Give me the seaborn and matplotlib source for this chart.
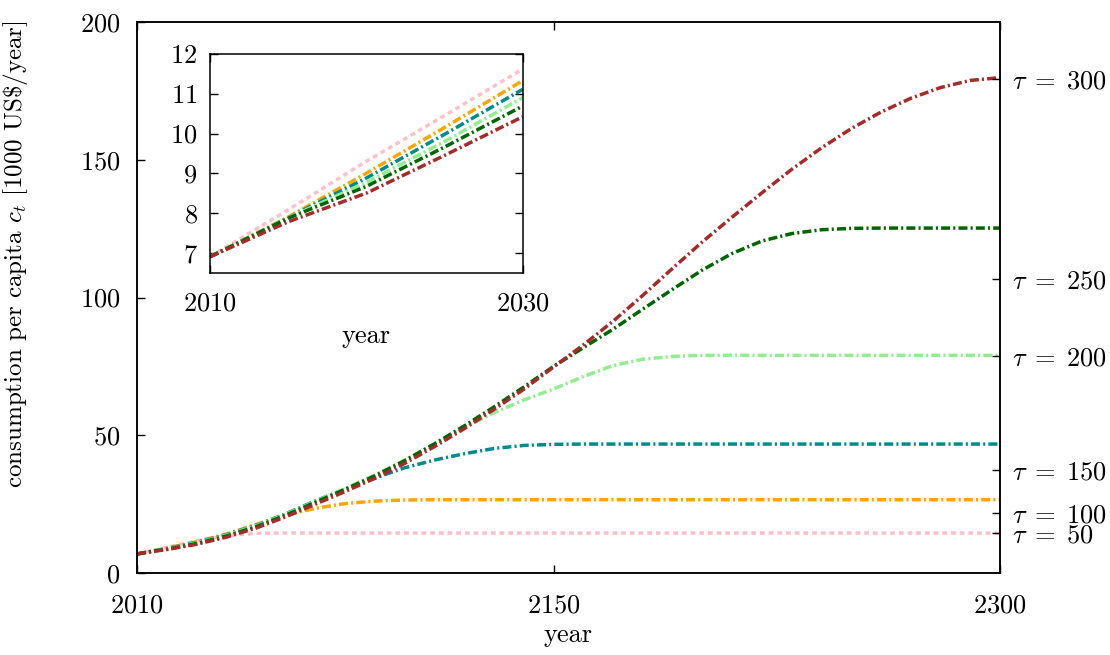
import pandas as pd
import seaborn as sns
import numpy as np
from matplotlib import pyplot as plt

# data (consumption per capita, 1000 US$/year)
years = [2010, 2015, 2020, 2025, 2030] + list(range(2040, 2301, 10))

c_tau50 = [6.9, 8.08, 9.3, 10.45, 11.62, 13.6, 14.4] + [14.5] * 25
c_tau100 = [6.9, 7.9, 9.0, 10.15, 11.33,
            14.1, 17.6, 21.0, 23.5, 25.2, 26.1, 26.5, 26.6] + [26.6] * 19
c_tau150 = [6.9, 7.88, 8.88, 9.98, 11.11,
            13.9, 17.3, 21.5, 26.2, 30.5, 34.5, 38.2, 41.0, 43.3, 45.2, 46.3, 46.7] + [46.8] * 15
c_tau200 = [6.9, 7.88, 8.77, 9.8, 10.9,
            13.7, 17.1, 21.3, 26.0, 30.7, 35.6, 41.0, 46.9, 52.8, 58.2, 62.8, 66.8,
            71.3, 75.3, 77.6, 78.6, 79.0] + [79.0] * 10
c_tau250 = [6.9, 7.87, 8.67, 9.66, 10.69,
            13.4, 16.8, 21.0, 25.7, 30.4, 35.3, 40.8, 46.9, 53.4, 60.3, 67.5, 75.0,
            81.8, 88.5, 95.8, 103.0, 110.0, 116.0, 120.5, 123.2, 124.6, 125.1,
            125.2, 125.2, 125.2, 125.2, 125.2]
c_tau300 = [6.9, 7.78, 8.5, 9.45, 10.42,
            13.0, 16.3, 20.4, 25.0, 29.6, 34.4, 39.8, 45.9, 52.4, 59.4, 66.7, 74.8,
            82.8, 91.4, 100.8, 110.6, 120.2, 129.2, 138.0, 146.5, 154.3, 161.3,
            167.3, 172.3, 176.2, 178.8, 179.8]

taus = [50, 100, 150, 200, 250, 300]
series = [c_tau50, c_tau100, c_tau150, c_tau200, c_tau250, c_tau300]
colors = ['#ffc0cb', '#ffa500', '#008b8b', '#90ee90', '#006400', '#a52a2a']

# right-hand label positions
label_pos = [14.6, 21.9, 37.4, 78.8, 106.8, 179.2]

df = pd.concat([pd.DataFrame({'year': years, 'c': s, 'tau': t})
                for t, s in zip(taus, series)], ignore_index=True)

palette = dict(zip(taus, colors))
dash_dot = (2.6, 0.9, 0.6, 0.9)
dashes = {t: dash_dot for t in taus}
dashes[50] = (1.4, 1.1)

plt.rcParams['font.family'] = 'cmr10'
plt.rcParams['mathtext.fontset'] = 'cm'
plt.rcParams['axes.formatter.use_mathtext'] = True
plt.rcParams['axes.linewidth'] = 1.1

fs = 19

fig = plt.figure(figsize=(11.1, 6.55), dpi=100)
ax = fig.add_axes([0.1234, 0.1252, 0.7775, 0.8412])

sns.lineplot(data=df, x='year', y='c', hue='tau', style='tau', palette=palette,
             dashes=dashes, hue_order=taus, style_order=taus, lw=2.5,
             legend=False, ax=ax)

ax.set_xlim(2010, 2300)
ax.set_ylim(0, 200)
ax.set_xticks([2010, 2150, 2300])
ax.set_yticks([0, 50, 100, 150, 200])
ax.tick_params(direction='in', length=6, width=1, top=True, right=True,
               labelsize=fs, pad=12)
ax.tick_params(axis='x', pad=15)
ax.set_xlabel('year', fontsize=fs, labelpad=4)
ax.set_ylabel(r'consumption per capita $c_t$ [1000 US\$/year]', fontsize=18)
ax.yaxis.set_label_coords(-0.124, 0.578)

# tau labels on the right
ax2 = ax.twinx()
ax2.set_ylim(0, 200)
ax2.set_yticks(label_pos)
ax2.set_yticklabels([r'$\tau\;=\;%d$' % t for t in taus])
ax2.tick_params(direction='in', length=6, width=1, labelsize=fs, pad=9)

# inset
axi = fig.add_axes([0.1892, 0.5837, 0.2817, 0.3339])
sns.lineplot(data=df[df['year'] <= 2030], x='year', y='c', hue='tau', style='tau',
             palette=palette, dashes=dashes, hue_order=taus, style_order=taus,
             lw=2.5, legend=False, ax=axi)
axi.set_xlim(2010, 2030)
axi.set_ylim(6.5, 12)
axi.set_xticks([2010, 2030])
axi.set_yticks([7, 8, 9, 10, 11, 12])
axi.tick_params(direction='in', length=5.5, width=1, top=True, right=True,
                labelsize=fs, pad=9)
axi.tick_params(axis='x', pad=14)
axi.set_xlabel('year', fontsize=fs, labelpad=6)
axi.set_ylabel('')

plt.savefig('out.png', dpi=100)
plt.close()
